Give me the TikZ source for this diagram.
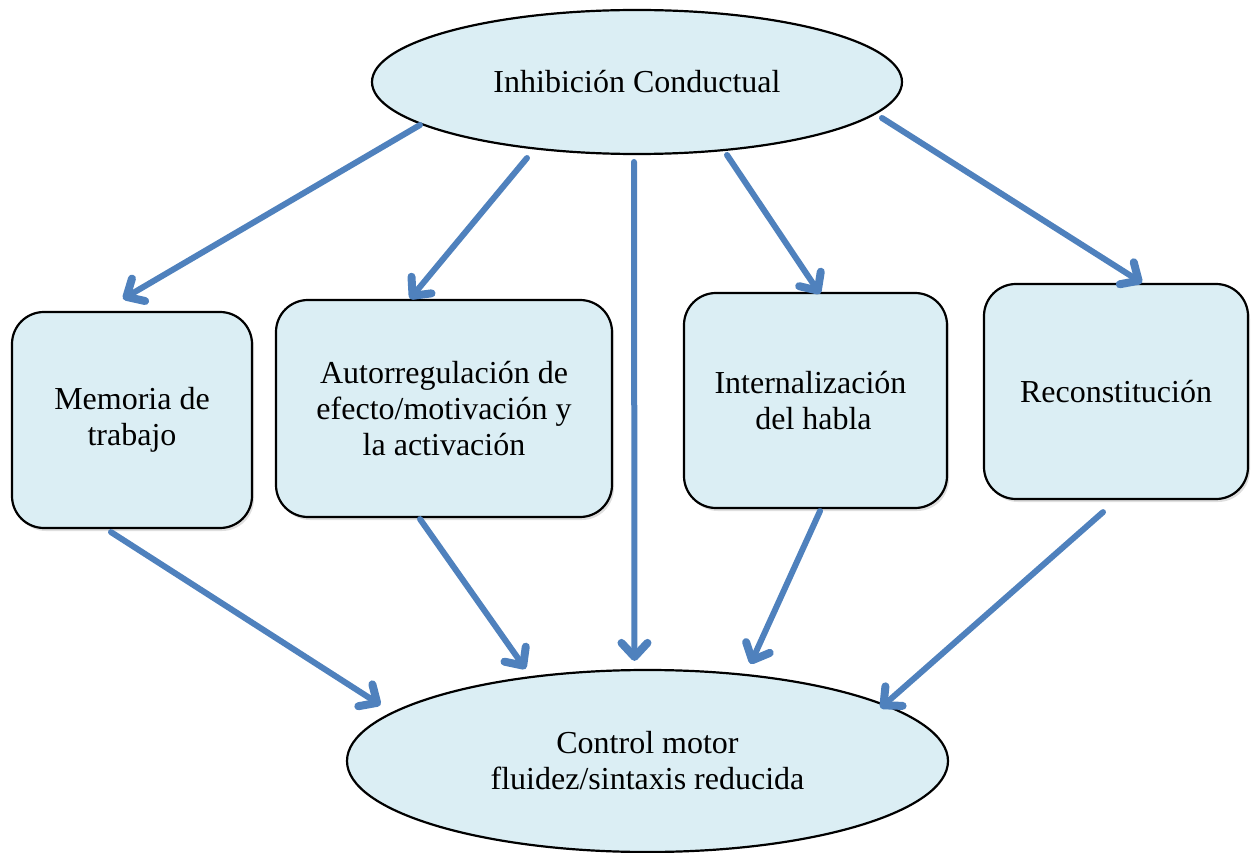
\documentclass[tikz,border=0pt]{standalone}
\usepackage{fontspec}
\setmainfont{Liberation Serif}
\usetikzlibrary{arrows.meta,shapes.geometric,shadows}
\definecolor{boxfill}{HTML}{DBEEF4}
\definecolor{arrowblue}{HTML}{4F81BD}
\begin{document}
\begin{tikzpicture}[x=1pt,y=-1pt,
  every node/.style={font=\fontsize{32}{36}\selectfont, align=center, inner sep=0pt},
  ell/.style={ellipse, draw=black, line width=2.2pt, fill=boxfill},
  rbox/.style={rectangle, rounded corners=32pt, draw=black, line width=2.2pt, fill=boxfill,
    drop shadow={opacity=0.25, shadow xshift=2pt, shadow yshift=-3pt}},
  arr/.style={draw=arrowblue, line width=6pt, -{Straight Barb[length=14pt,width=26pt,round,line width=8pt 0]}, line cap=round, line join=round}]
\useasboundingbox (0,0) rectangle (1251,853);
\node[ell, minimum width=530pt, minimum height=144pt] (ie) at (637,82) {Inhibición Conductual};
\node[ell, minimum width=601pt, minimum height=182pt] (ci) at (647.5,761) {Control motor\\fluidez/sintaxis reducida};
\node[rbox, minimum width=240pt, minimum height=216pt] (mem) at (132,420) {Memoria de\\trabajo};
\node[rbox, minimum width=336pt, minimum height=217pt] (auto) at (444,408.5) {Autorregulación de\\efecto/motivación y\\la activación};
\node[rbox, minimum width=263pt, minimum height=215pt] (int) at (815.5,400.5) {Internalización\hspace*{10pt}\\del habla\hspace*{4pt}};
\node[rbox, minimum width=264pt, minimum height=215pt] (rec) at (1116,391.5) {Reconstitución};
% arrows from the top ellipse
\draw[arr] ([shift={(-217,43)}]ie.center) -- ([shift={(-9,-12)}]mem.north);
\draw[arr] ([shift={(-110,76)}]ie.center) -- ([shift={(-34,0)}]auto.north);
\draw[arr] ([shift={(-3,80)}]ie.center) -- ([shift={(-13,-8)}]ci.north);
\draw[arr] ([shift={(90,73)}]ie.center) -- ([shift={(4.5,2)}]int.north);
\draw[arr] ([shift={(245,36)}]ie.center) -- ([shift={(26,0)}]rec.north);
% arrows to the bottom ellipse
\draw[arr] ([shift={(-21,3)}]mem.south) -- ([shift={(-267,-56)}]ci.center);
\draw[arr] ([shift={(-24,1)}]auto.south) -- ([shift={(-122,0)}]ci.north);
\draw[arr] ([shift={(4.5,2)}]int.south) -- ([shift={(103,-5)}]ci.north);
\draw[arr] ([shift={(-13,12)}]rec.south) -- ([shift={(233,-53)}]ci.center);
\end{tikzpicture}
\end{document}
